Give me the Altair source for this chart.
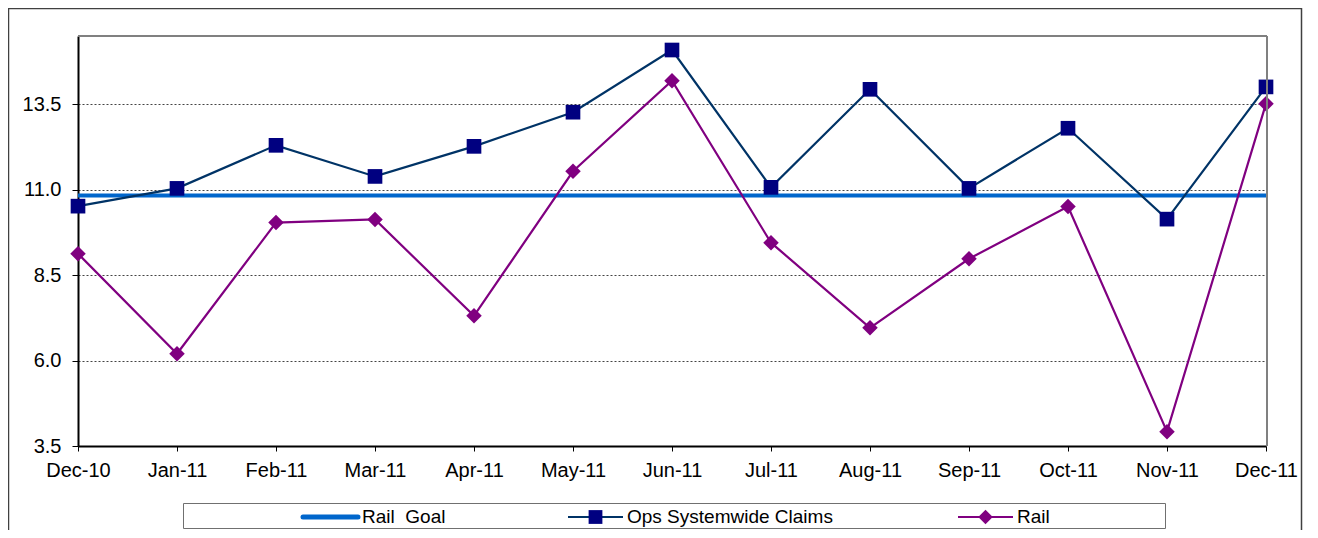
import altair as alt
import pandas as pd

# ---- data ----
months = ["Dec-10", "Jan-11", "Feb-11", "Mar-11", "Apr-11", "May-11", "Jun-11",
          "Jul-11", "Aug-11", "Sep-11", "Oct-11", "Nov-11", "Dec-11"]
ops_claims = [10.52, 11.04, 12.30, 11.39, 12.27, 13.27, 15.09,
              11.07, 13.94, 11.04, 12.80, 10.14, 14.01]
rail = [9.13, 6.20, 10.04, 10.13, 7.31, 11.54, 14.19,
        9.45, 6.96, 8.98, 10.51, 3.92, 13.52]
rail_goal = [10.83]
y_ticks = [3.5, 6.0, 8.5, 11.0, 13.5]
series_names = ["Rail\u00a0 Goal", "Ops Systemwide Claims", "Rail"]

# ---- layout / style ----
W, H = 1188, 410
FONT = "Liberation Sans"
GOAL_COLOR = "#0066CC"
OPS_LINE = "#003366"
OPS_MARK = "#000080"
RAIL_COLOR = "#800080"

ops_df = pd.DataFrame({"month": months, "value": ops_claims})
rail_df = pd.DataFrame({"month": months, "value": rail})
goal_df = pd.DataFrame({"value": rail_goal})

x_enc = alt.X("month:O", sort=months, title=None,
              scale=alt.Scale(type="point", padding=0),
              axis=alt.Axis(labelAngle=0, grid=False, tickSize=5, labelPadding=9,
                            domainColor="black", domainWidth=2, tickColor="black",
                            labelFont=FONT, labelFontSize=20, labelColor="black"))
y_enc = alt.Y("value:Q", title=None,
              scale=alt.Scale(domain=[3.5, 15.5], nice=False, zero=False),
              axis=alt.Axis(values=y_ticks, format=".1f", grid=True,
                            gridColor="#444444", gridDash=[2, 2], gridWidth=1,
                            tickSize=6, labelPadding=11, domainColor="black",
                            domainWidth=2, tickColor="black",
                            labelFont=FONT, labelFontSize=20, labelColor="black"))


def one():
    return alt.Chart(pd.DataFrame({"k": [0]}))


# outer frame
frame = one().mark_rect(fill=None, stroke="#404040", strokeWidth=1.5).encode(
    x=alt.value(-69.5), x2=alt.value(1223.5), y=alt.value(-27.5), y2=alt.value(520))

goal = alt.Chart(goal_df).mark_rule(color=GOAL_COLOR, strokeWidth=4).encode(y=y_enc)

ops_line = alt.Chart(ops_df).mark_line(color=OPS_LINE, strokeWidth=2.2).encode(x=x_enc, y=y_enc)
ops_pts = alt.Chart(ops_df).mark_point(shape="square", filled=True, color=OPS_MARK,
                                       opacity=1, size=215).encode(x=x_enc, y=y_enc)
rail_line = alt.Chart(rail_df).mark_line(color=RAIL_COLOR, strokeWidth=2.2).encode(x=x_enc, y=y_enc)
rail_pts = alt.Chart(rail_df).mark_point(shape="diamond", filled=True, color=RAIL_COLOR,
                                         opacity=1, size=240).encode(x=x_enc, y=y_enc)

# plot-area top and right border (gray)
top_border = one().mark_rule(color="#808080", strokeWidth=2).encode(
    x=alt.value(0), x2=alt.value(W + 1), y=alt.value(0))
right_border = one().mark_rule(color="#808080", strokeWidth=2).encode(
    x=alt.value(W + 1), y=alt.value(0), y2=alt.value(H))

# legend (box + entries)
LEG_Y = 481
legend_box = one().mark_rect(fill="white", stroke="#707070", strokeWidth=1).encode(
    x=alt.value(105.5), x2=alt.value(1087.5), y=alt.value(467.5), y2=alt.value(492.5))

sym_start = [225, 490, 880]
sym_len = 55
legend_layers = []
line_styles = [(GOAL_COLOR, 5), (OPS_LINE, 2), (RAIL_COLOR, 2)]
markers = [None, ("square", OPS_MARK, 190), ("diamond", RAIL_COLOR, 210)]
for name, x0, (col, sw), mk in zip(series_names, sym_start, line_styles, markers):
    legend_layers.append(
        one().mark_rule(color=col, strokeWidth=sw, strokeCap="round" if mk is None else "butt").encode(
            x=alt.value(x0), x2=alt.value(x0 + sym_len), y=alt.value(LEG_Y)))
    if mk is not None:
        legend_layers.append(
            one().mark_point(shape=mk[0], filled=True, color=mk[1], opacity=1, size=mk[2]).encode(
                x=alt.value(x0 + sym_len / 2), y=alt.value(LEG_Y)))
    legend_layers.append(
        alt.Chart(pd.DataFrame({"label": [name]})).mark_text(
            align="left", baseline="middle", font=FONT, fontSize=19, color="black").encode(
            x=alt.value(x0 + sym_len + 4), y=alt.value(LEG_Y), text="label:N"))

chart = alt.layer(
    frame, legend_box, goal, ops_line, ops_pts, rail_line, rail_pts,
    top_border, right_border, *legend_layers
).properties(
    width=W, height=H,
    autosize=alt.AutoSizeParams(type="none"),
    padding={"left": 70, "top": 28, "right": 44, "bottom": 84},
).configure_view(stroke=None)

chart.save("out.html", embed_options={"renderer": "svg", "actions": False})
